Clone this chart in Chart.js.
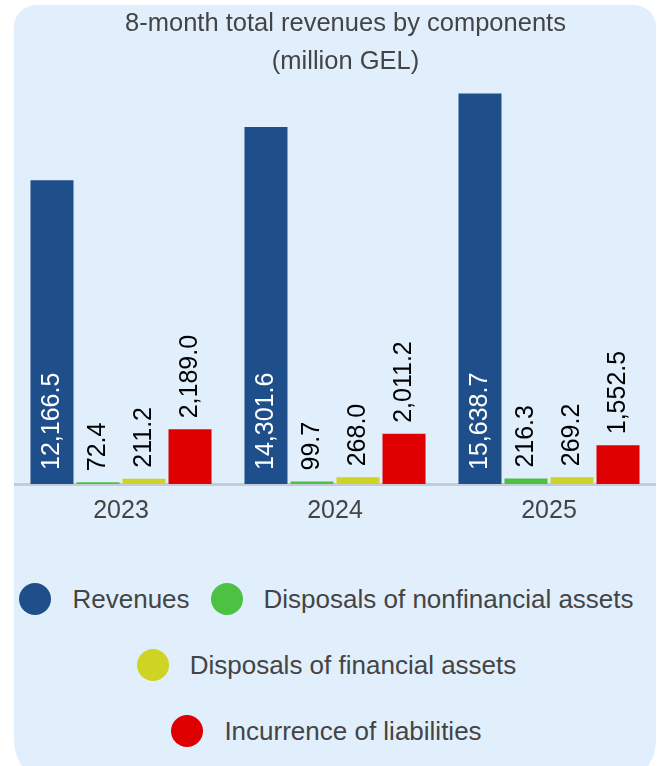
<!DOCTYPE html>
<html>
<head>
<meta charset="utf-8">
<script src="https://cdn.jsdelivr.net/npm/chart.js@4/dist/chart.umd.min.js"></script>
<style>
  html, body { margin: 0; padding: 0; background: #ffffff; }
  body { width: 661px; height: 766px; position: relative; overflow: hidden; font-family: "Liberation Sans", Arial, sans-serif; }
  #panel { position: absolute; left: 14px; top: 5px; width: 642px; height: 769px; border-radius: 22px 22px 22px 22px / 22px 22px 35px 35px; background: #e1effd; overflow: hidden; }
  #chartBox { position: absolute; left: 0; top: 0; width: 663px; height: 533px; }
  #legend { position: absolute; left: 0; top: 578px; width: 642px; padding-right: 17px; box-sizing: border-box; }
  .lrow { display: flex; justify-content: center; align-items: center; height: 32px; margin-bottom: 34px; }
  .litem { display: flex; align-items: center; margin: 0 10.5px; }
  .ldot { width: 32px; height: 32px; border-radius: 50%; margin-right: 21px; flex: none; }
  .ltext { font-size: 26px; color: #444444; white-space: nowrap; line-height: 32px; }
</style>
</head>
<body>
<div id="panel">
  <div id="chartBox"><canvas id="c" width="663" height="533"></canvas></div>
  <div id="legend"></div>
</div>
<script>
// ---- data ----
const categories = ['2023', '2024', '2025'];
const seriesNames = ['Revenues', 'Disposals of nonfinancial assets', 'Disposals of financial assets', 'Incurrence of liabilities'];
const revenues = [12166.5, 14301.6, 15638.7];
const nonfinancialDisposals = [72.4, 99.7, 216.3];
const financialDisposals = [211.2, 268.0, 269.2];
const liabilities = [2189.0, 2011.2, 1552.5];
const chartTitle = ['8-month total revenues by components', '(million GEL)'];
const legendRows = [[0, 1], [2], [3]];

// ---- styles ----
const colors = ['#1f4f8b', '#4cc142', '#cfd324', '#de0000'];
const FONT = '"Liberation Sans", Arial, sans-serif';

const fmt = v => v.toLocaleString('en-US', { minimumFractionDigits: 1, maximumFractionDigits: 1 });

const barLabels = {
  id: 'barLabels',
  afterDatasetsDraw(chart) {
    const ctx = chart.ctx;
    chart.data.datasets.forEach((ds, i) => {
      const meta = chart.getDatasetMeta(i);
      meta.data.forEach((bar, j) => {
        const txt = fmt(ds.data[j]);
        ctx.save();
        ctx.font = '25px ' + FONT;
        ctx.textBaseline = 'middle';
        ctx.textAlign = 'left';
        let y;
        if (i === 0) { ctx.fillStyle = '#ffffff'; y = bar.base - 14; }
        else { ctx.fillStyle = '#000000'; y = bar.y - 11; }
        ctx.translate(bar.x, y);
        ctx.rotate(-Math.PI / 2);
        ctx.fillText(txt, 0, 0);
        ctx.restore();
      });
    });
  }
};

const htmlLegend = {
  id: 'htmlLegend',
  afterUpdate(chart) {
    const box = document.getElementById('legend');
    box.innerHTML = '';
    const items = chart.options.plugins.legend.labels.generateLabels(chart);
    legendRows.forEach(row => {
      const r = document.createElement('div');
      r.className = 'lrow';
      row.forEach(idx => {
        const it = items[idx];
        const d = document.createElement('div');
        d.className = 'litem';
        const dot = document.createElement('span');
        dot.className = 'ldot';
        dot.style.background = it.fillStyle;
        const t = document.createElement('span');
        t.className = 'ltext';
        t.textContent = it.text;
        d.appendChild(dot); d.appendChild(t);
        r.appendChild(d);
      });
      box.appendChild(r);
    });
  }
};

const dataSeries = [revenues, nonfinancialDisposals, financialDisposals, liabilities];

new Chart(document.getElementById('c'), {
  type: 'bar',
  data: {
    labels: categories,
    datasets: dataSeries.map((d, i) => ({
      label: seriesNames[i],
      data: d,
      backgroundColor: colors[i],
      borderWidth: 0,
      categoryPercentage: 0.86,
      barPercentage: 0.935
    }))
  },
  options: {
    responsive: false,
    animation: false,
    layout: { padding: 0 },
    plugins: {
      legend: { display: false },
      tooltip: { enabled: false },
      title: {
        display: true,
        text: chartTitle,
        color: '#444444',
        font: { family: FONT, size: 25.5, weight: 'normal', lineHeight: 1.5 },
        padding: { top: 0, bottom: 3 }
      }
    },
    scales: {
      x: {
        grid: { display: false, drawTicks: false },
        border: { display: true, color: '#c3ccd8', width: 3 },
        ticks: { color: '#444444', font: { family: FONT, size: 25 }, padding: 12 }
      },
      y: {
        display: true,
        position: 'right',
        min: 0,
        max: 16000,
        ticks: { display: false },
        grid: { display: false, drawTicks: false },
        border: { display: false },
        afterFit: s => { s.width = 21; }
      }
    }
  },
  plugins: [barLabels, htmlLegend]
});
</script>
</body>
</html>
